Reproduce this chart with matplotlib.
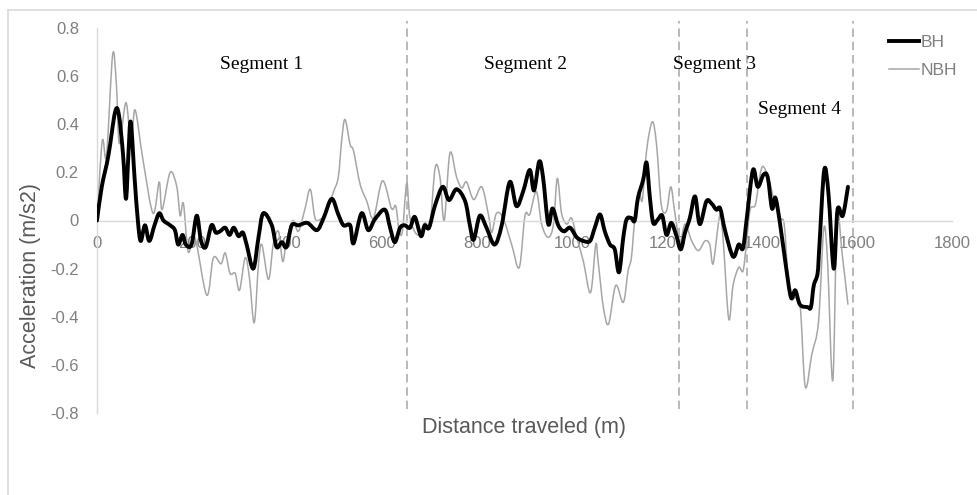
import matplotlib
matplotlib.use("Agg")
import numpy as np
import matplotlib.pyplot as plt
from matplotlib.lines import Line2D
from matplotlib.path import Path
from matplotlib.patches import PathPatch

# Acceleration along the route, vehicle with (BH) and without (NBH) the behaviour
bh_distance = [0, 10, 24, 38, 46, 55, 61, 66, 71, 79, 86, 92, 101, 110, 121, 131, 140, 154, 164, 171,
               180, 187, 199, 210, 219, 229, 241, 250, 259, 270, 279, 288, 298, 307, 315, 329, 340,
               350, 368, 378, 389, 399, 410, 424, 443, 463, 477, 494, 508, 519, 533, 540, 557, 571,
               585, 606, 617, 627, 638, 648, 659, 669, 682, 690, 699, 712, 728, 741, 757, 775, 785,
               793, 806, 820, 837, 852, 869, 883, 897, 911, 920, 931, 939, 950, 959, 971, 983, 996,
               1010, 1024, 1038, 1048, 1059, 1069, 1080, 1090, 1099, 1108, 1115, 1125, 1132, 1139,
               1150, 1157, 1164, 1171, 1181, 1190, 1199, 1209, 1220, 1229, 1238, 1248, 1259, 1269,
               1283, 1294, 1304, 1312, 1322, 1339, 1351, 1360, 1368, 1381, 1391, 1403, 1412, 1421,
               1428, 1437, 1449, 1461, 1470, 1480, 1496, 1503, 1509, 1517, 1521, 1531, 1540, 1551,
               1559, 1570, 1581]
bh_accel = [0.0, 0.14, 0.27, 0.45, 0.44, 0.27, 0.09, 0.27, 0.41, 0.18, 0.0, -0.085, -0.02, -0.085,
            -0.02, 0.03, 0.0, -0.02, -0.04, -0.1, -0.06, -0.1, -0.1, 0.02, -0.085, -0.11, -0.02, -0.05,
            -0.045, -0.03, -0.06, -0.03, -0.065, -0.05, -0.1, -0.2, -0.07, 0.03, -0.02, -0.11, -0.09,
            -0.11, -0.02, -0.02, -0.01, -0.04, 0.01, 0.09, 0.025, -0.02, -0.02, -0.095, 0.03, -0.04,
            0.005, 0.045, -0.03, -0.09, -0.03, -0.02, -0.03, 0.015, -0.065, -0.02, -0.03, 0.065, 0.14,
            0.085, 0.13, 0.08, -0.02, -0.08, 0.02, -0.03, -0.1, -0.02, 0.16, 0.06, 0.12, 0.21, 0.125,
            0.245, 0.18, -0.015, 0.05, -0.02, -0.045, -0.03, -0.07, -0.085, -0.085, -0.03, 0.025,
            -0.045, -0.1, -0.12, -0.215, -0.07, 0.005, 0.01, 0.0, 0.095, 0.17, 0.24, 0.095, -0.01,
            0.005, 0.02, -0.06, -0.01, -0.065, -0.12, -0.05, 0.01, 0.1, -0.015, 0.08, 0.07, 0.045,
            0.05, -0.04, -0.15, -0.1, -0.115, 0.01, 0.21, 0.14, 0.19, 0.18, 0.05, 0.095, 0.0, -0.17,
            -0.32, -0.29, -0.35, -0.36, -0.36, -0.27, -0.22, -0.1, 0.21, 0.11, -0.2, 0.045, 0.02, 0.14]

nbh_distance = [0, 11, 20, 33, 41, 47, 61, 72, 80, 97, 118, 131, 137, 154, 168, 175, 182, 192, 206,
                231, 245, 261, 270, 280, 291, 300, 312, 321, 331, 340, 347, 361, 371, 382, 391, 399,
                412, 424, 438, 449, 459, 470, 482, 498, 508, 515, 522, 533, 540, 554, 568, 582, 601,
                620, 629, 636, 643, 652, 659, 675, 690, 701, 712, 722, 731, 743, 757, 768, 778, 793,
                810, 824, 831, 841, 855, 873, 889, 901, 911, 925, 936, 950, 961, 969, 978, 989, 999,
                1010, 1024, 1039, 1050, 1055, 1066, 1077, 1092, 1108, 1118, 1125, 1132, 1141, 1148,
                1157, 1169, 1178, 1188, 1199, 1208, 1216, 1227, 1238, 1252, 1266, 1280, 1290, 1297,
                1308, 1313, 1319, 1330, 1339, 1351, 1360, 1367, 1375, 1386, 1395, 1402, 1414, 1426,
                1438, 1447, 1456, 1466, 1480, 1491, 1505, 1519, 1530, 1538, 1549, 1558, 1568, 1581]
nbh_accel = [0.0, 0.33, 0.27, 0.69, 0.56, 0.32, 0.49, 0.31, 0.46, 0.25, 0.03, 0.16, 0.045, 0.2, 0.14,
             0.02, 0.07, -0.13, -0.07, -0.31, -0.155, -0.18, -0.135, -0.22, -0.22, -0.29, -0.155,
             -0.24, -0.425, -0.18, -0.1, -0.245, -0.1, -0.045, -0.17, -0.085, 0.0, -0.045, 0.05, 0.13,
             0.01, 0.005, 0.03, 0.12, 0.18, 0.33, 0.42, 0.315, 0.29, 0.15, 0.08, 0.01, 0.165, 0.05,
             0.06, -0.04, -0.045, 0.155, 0.01, -0.06, -0.01, -0.02, 0.22, 0.18, 0.0, 0.28, 0.18, 0.135,
             0.16, 0.087, 0.14, 0.025, -0.05, 0.03, 0.01, -0.1, -0.195, 0.02, 0.025, 0.12, -0.015,
             -0.07, -0.015, 0.175, 0.03, -0.015, 0.01, -0.07, -0.17, -0.3, -0.1, -0.17, -0.36, -0.43,
             -0.27, -0.34, -0.21, -0.155, 0.0, 0.12, 0.085, 0.29, 0.41, 0.315, 0.065, 0.04, 0.14, 0.04,
             -0.09, -0.015, -0.085, -0.125, -0.085, -0.1, -0.18, -0.015, 0.02, -0.1, -0.41, -0.27,
             -0.195, -0.21, -0.1, 0.045, 0.065, 0.18, 0.225, 0.175, 0.08, 0.01, -0.02, -0.27, -0.32,
             -0.35, -0.69, -0.555, -0.42, -0.035, -0.17, -0.665, 0.025, -0.125, -0.35]

segment_bounds = [653, 1225, 1368, 1592]
segment_names = ["Segment 1", "Segment 2", "Segment 3", "Segment 4"]
segment_label_x = [347, 903, 1299, 1480]
segment_label_y = [0.647, 0.647, 0.647, 0.46]

x_ticks = [0, 200, 400, 600, 800, 1000, 1200, 1400, 1600, 1800]
y_ticks = [-0.8, -0.6, -0.4, -0.2, 0.0, 0.2, 0.4, 0.6, 0.8]
y_tick_labels = ["-0.8", "-0.6", "-0.4", "-0.2", "0", "0.2", "0.4", "0.6", "0.8"]


def smoothed_path(xs, ys):
    """Cubic Bezier path through every sample (smoothed-line style)."""
    pts = np.column_stack([xs, ys]).astype(float)
    n = len(pts)
    verts = [pts[0]]
    codes = [Path.MOVETO]
    for i in range(n - 1):
        p0 = pts[i - 1] if i > 0 else pts[i]
        p1 = pts[i]
        p2 = pts[i + 1]
        p3 = pts[i + 2] if i + 2 < n else pts[i + 1]
        verts += [p1 + (p2 - p0) / 6.0, p2 - (p3 - p1) / 6.0, p2]
        codes += [Path.CURVE4] * 3
    return Path(verts, codes)


plt.rcParams["font.family"] = ["Liberation Sans", "DejaVu Sans"]

W, H = 977, 495
fig = plt.figure(figsize=(W / 100, H / 100), dpi=100)
ax = fig.add_axes([97 / W, 1 - 413 / H, (952 - 97) / W, (413 - 28) / H])
ax.set_xlim(0, 1800)
ax.set_ylim(-0.8, 0.8)

axis_grey = "#d9d9d9"
tick_grey = "#7f7f7f"
title_grey = "#595959"
nbh_grey = "#a6a6a6"

for side in ("top", "right"):
    ax.spines[side].set_visible(False)
ax.spines["left"].set_color(axis_grey)
ax.spines["left"].set_linewidth(1.0)
ax.spines["bottom"].set_position(("data", 0))
ax.spines["bottom"].set_color(axis_grey)
ax.spines["bottom"].set_linewidth(1.0)

ax.set_xticks(x_ticks)
ax.set_xticklabels([str(t) for t in x_ticks])
ax.set_yticks(y_ticks)
ax.set_yticklabels(y_tick_labels)
ax.tick_params(axis="both", length=0, labelsize=12, labelcolor=tick_grey)
ax.tick_params(axis="x", pad=11)
ax.tick_params(axis="y", pad=13)

# Segment boundaries
ax.vlines(segment_bounds, -0.785, 0.83, colors=nbh_grey, linewidth=1.1,
          linestyles=(0, (5.5, 3.2)), clip_on=False, zorder=1)

ax.add_patch(PathPatch(smoothed_path(nbh_distance, nbh_accel), fill=False,
                       edgecolor=nbh_grey, linewidth=1.1, joinstyle="round", zorder=2))
ax.add_patch(PathPatch(smoothed_path(bh_distance, bh_accel), fill=False,
                       edgecolor="#000000", linewidth=2.8, joinstyle="round",
                       capstyle="round", zorder=3))

for name, sx, sy in zip(segment_names, segment_label_x, segment_label_y):
    ax.text(sx, sy, name, ha="center", va="center", fontsize=14,
            family=["Liberation Serif", "DejaVu Serif"], color="#000000")

legend_handles = [Line2D([], [], color="#000000", linewidth=2.8),
                  Line2D([], [], color=nbh_grey, linewidth=1.1)]
ax.legend(legend_handles, ["BH", "NBH"],
          loc="upper left", bbox_to_anchor=(889 / W, 1 - 35 / H),
          bbox_transform=fig.transFigure, frameon=False, handlelength=1.75,
          handletextpad=0.1, borderpad=0, borderaxespad=0, labelspacing=0.75,
          fontsize=12.5, labelcolor=tick_grey)

fig.text(524 / W, 1 - 428 / H, "Distance traveled (m)", ha="center", va="center",
         fontsize=15.5, color=title_grey)
fig.text(31 / W, 1 - 275 / H, "Acceleration (m/s2)", ha="center", va="center",
         rotation=90, fontsize=15.5, color=title_grey)

# Chart-area frame
fig.add_artist(Line2D([8 / W, 8 / W], [0, 1 - 10 / H], color=axis_grey, linewidth=1.2))
fig.add_artist(Line2D([8 / W, 1], [1 - 10 / H, 1 - 10 / H], color=axis_grey, linewidth=1.2))

fig.savefig("out.png", dpi=100)
